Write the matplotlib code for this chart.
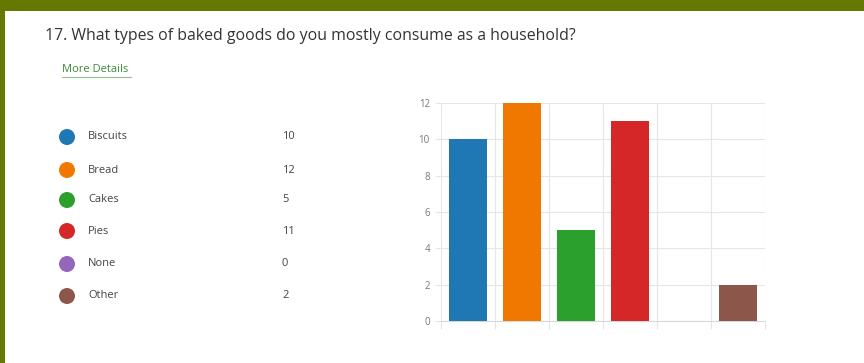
import matplotlib
matplotlib.use("Agg")
import matplotlib.pyplot as plt
from matplotlib.patches import Rectangle, Circle

# données du sondage
categories = ["Biscuits", "Bread", "Cakes", "Pies", "None", "Other"]
counts = [10, 12, 5, 11, 0, 2]
colors = ["#1f77b4", "#f07800", "#2ca02c", "#d62728", "#9467bd", "#8c564b"]
y_ticks = [0, 2, 4, 6, 8, 10, 12]
title = "17. What types of baked goods do you mostly consume as a household?"

W, H = 864, 363
plt.rcParams['font.family'] = ['Open Sans', 'DejaVu Sans']
fig = plt.figure(figsize=(W / 100, H / 100), dpi=100)
fig.patch.set_facecolor("white")

# cadre vert (haut + gauche)
fig.patches.append(Rectangle((0, 1 - 11 / H), 1, 11 / H, transform=fig.transFigure,
                             facecolor="#657800", edgecolor="none"))
fig.patches.append(Rectangle((0, 0), 5 / W, 1, transform=fig.transFigure,
                             facecolor="#657800", edgecolor="none"))

fig.text(45 / W, 1 - 36 / H, title, fontsize=11.4, color="#333333", va="center", ha="left")
fig.text(62 / W, 1 - 70 / H, "More Details", fontsize=8, color="#3a8a3a", va="center", ha="left")
fig.add_artist(plt.Line2D([62 / W, 131 / W], [1 - 77 / H, 1 - 77 / H], color="#8fc08f", lw=0.8))

# légende à gauche (cercles en pouces pour rester ronds)
rows_y = [137, 170, 200, 231, 264, 296]
for cat, n, c, yp in zip(categories, counts, colors, rows_y):
    yf = 1 - yp / H
    fig.patches.append(Circle((0.67, (H - yp) / 100), 0.08, transform=fig.dpi_scale_trans,
                              facecolor=c, edgecolor="none"))
    fig.text(88 / W, yf, cat, fontsize=8, color="#444444", va="center", ha="left")
    fig.text(282 / W, yf, str(n), fontsize=8, color="#444444", va="center", ha="left")

# graphique à barres
ax = fig.add_axes([441 / W, 1 - 321 / H, 324 / W, 218 / H])
x = list(range(len(categories)))
ax.bar(x, counts, width=0.72, color=colors, zorder=3)
ax.set_xlim(-0.5, len(categories) - 0.5)
ax.set_ylim(0, 12)
ax.set_yticks(y_ticks)
ax.set_xticks([i - 0.5 for i in range(len(categories) + 1)])
ax.set_xticklabels([])
ax.grid(True, color="#e6e6e6", lw=0.8, zorder=0)
ax.tick_params(axis="x", length=6, color="#e6e6e6", width=0.8)
ax.tick_params(axis="y", length=4, color="#e6e6e6", width=0.8, labelsize=7,
               labelcolor="#777777", pad=4)
for s in ["top", "right", "left"]:
    ax.spines[s].set_visible(False)
ax.spines["bottom"].set_color("#d8d8d8")

fig.savefig("out.png", dpi=100)
